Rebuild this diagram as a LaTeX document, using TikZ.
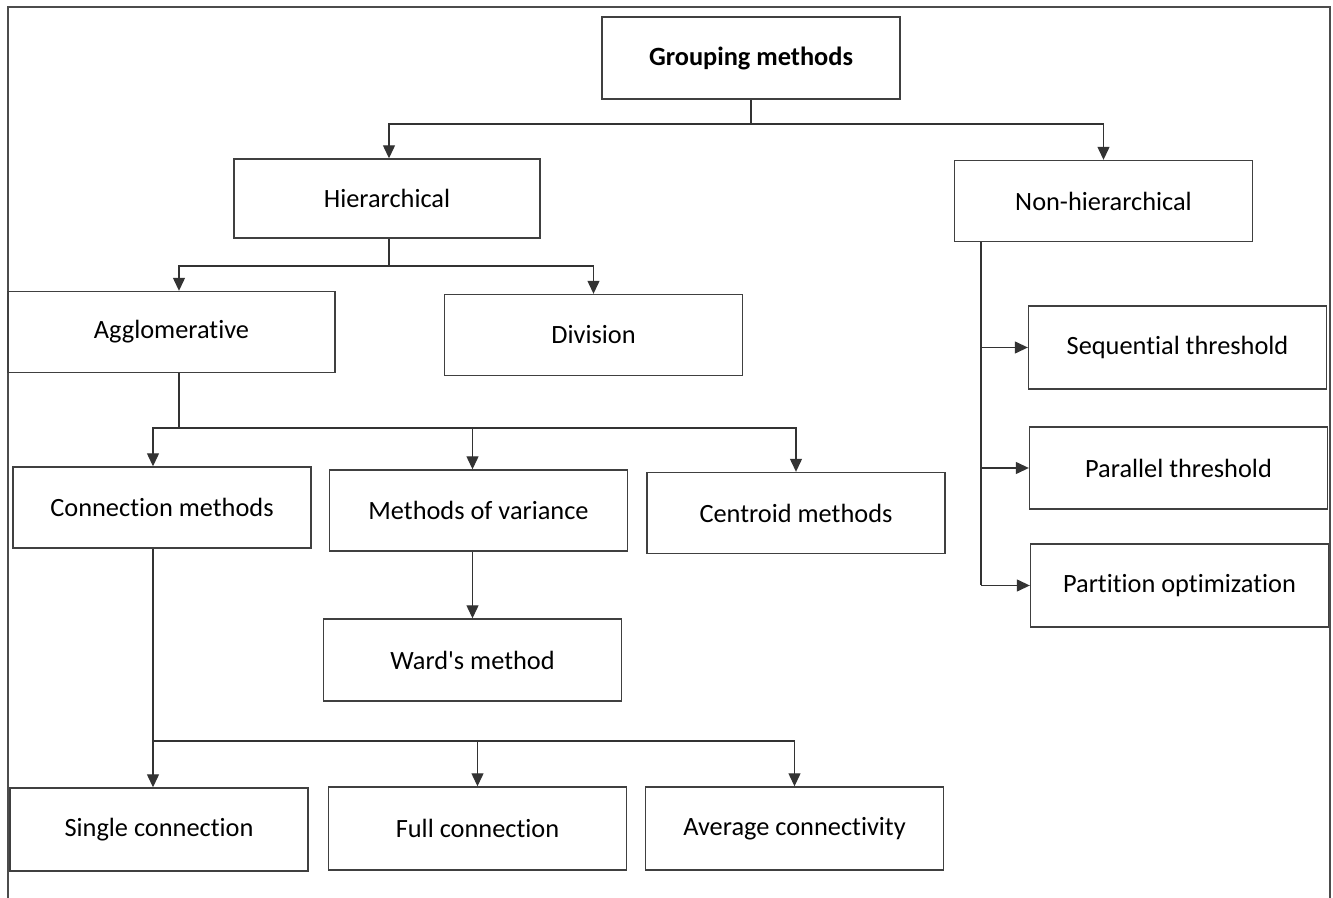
\documentclass[tikz,border=0pt]{standalone}
\usepackage{fontspec}
\setmainfont[Ligatures={NoCommon}]{Carlito}
\usetikzlibrary{arrows.meta}
\begin{document}
\begin{tikzpicture}[x=0.02cm, y=-0.02cm,
	box/.style={draw=black!75, line width=0.8pt, minimum width=5.96cm, minimum height=1.62cm, inner sep=0pt, font=\fontsize{15}{18}\selectfont},
	link/.style={draw=black!80, line width=0.7pt},
	arr/.style={link, -{Triangle[length=0.26cm, width=0.24cm]}},
	frame/.style={draw=black!70, line width=1.4pt}]
	\useasboundingbox (0,0) rectangle (1333,898);
	\draw[frame] (8,898)--(8,7)--(1330,7)--(1330,898);
	\node[box, minimum height=1.64cm, font=\fontsize{15}{18}\selectfont\bfseries] (top) at (751,58) {Grouping methods};
	\node[box, minimum width=6.12cm, minimum height=1.58cm] (hier) at (387,198.5) {Hierarchical};
	\node[box] (nonh) at (1103.5,201) {Non-hierarchical};
	\node[box, minimum width=6.54cm] (aggl) at (171.5,332) {Agglomerative};
	\node[box] (div) at (593.5,335) {Division};
	\node[box] (conn) at (162,507.5) {Connection methods};
	\node[box] (var) at (478.5,510.5) {Methods of variance};
	\node[box] (cent) at (796,513) {Centroid methods};
	\node[box, minimum height=1.64cm] (ward) at (472.5,660) {Ward\textquotesingle s method};
	\node[box, minimum height=1.66cm] (single) at (159,829.5) {Single connection};
	\node[box, minimum height=1.66cm] (full) at (477.5,828.5) {Full connection};
	\node[box, minimum height=1.66cm] (avg) at (794.5,828.5) {Average connectivity};
	\node[box, minimum height=1.66cm] (seq) at (1177.5,347.5) {Sequential threshold};
	\node[box, minimum height=1.64cm] (par) at (1178.5,468) {Parallel threshold};
	\node[box, minimum height=1.66cm] (part) at (1179.5,585.5) {Partition optimization};
	\coordinate (b1) at (751,124);
	\coordinate (b2) at (389,266);
	\coordinate (b3) at (179,428);
	\coordinate (b4) at (153,741);
	\coordinate (nh) at (981,241);
	\draw[link] (top.south)--(b1);
	\draw[arr] (b1) -| (hier.north -| b2);
	\draw[arr] (b1) -| (nonh.north);
	\draw[link] (hier.south -| b2)--(b2);
	\draw[arr] (b2) -| (aggl.north -| b3);
	\draw[arr] (b2) -| (div.north);
	\draw[link] (aggl.south -| b3)--(b3);
	\draw[arr] (b3) -| (conn.north -| b4);
	\draw[arr] (b3) -| (var.north -| ward.north);
	\draw[arr] (b3) -| (cent.north);
	\draw[arr] (var.south -| ward.north)--(ward.north);
	\draw[link] (conn.south -| b4)--(b4);
	\draw[arr] (b4)--(single.north -| b4);
	\draw[arr] (b4) -| (full.north);
	\draw[arr] (b4) -| (avg.north);
	\draw[link] (nonh.south -| nh)--(part.west -| nh);
	\draw[arr] (seq.west -| nh)--(seq.west);
	\draw[arr] (par.west -| nh)--(par.west);
	\draw[arr] (part.west -| nh)--(part.west);
\end{tikzpicture}
\end{document}
